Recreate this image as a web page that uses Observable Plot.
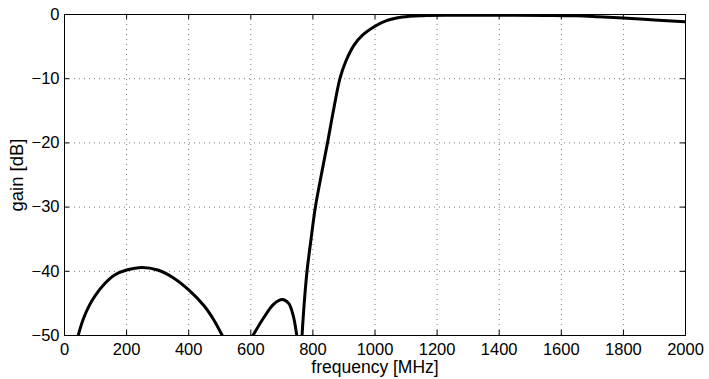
<!DOCTYPE html>
<html><head><meta charset="utf-8">
<script src="https://cdn.jsdelivr.net/npm/d3@7"></script>
<script src="https://cdn.jsdelivr.net/npm/@observablehq/plot@0.6"></script>
<style>body{margin:0;background:#fff}</style>
</head><body><div id="chart"></div>
<script>
// Sidelobe 1
const freq1 = [44, 60, 80, 100, 130, 160, 200, 250, 300, 350, 400, 450, 480, 508];
const gain1 = [-50, -47.5, -45.3, -43.7, -41.9, -40.6, -39.8, -39.4, -39.8, -41.0, -42.9, -45.4, -47.5, -50];
// Sidelobe 2
const freq2 = [607, 642, 674, 702, 722, 736, 748];
const gain2 = [-50, -47.2, -45.1, -44.4, -45.0, -46.8, -50];
// Passband
const freq3 = [765, 772, 781, 794, 808, 827, 847, 866, 887, 905, 932, 959, 1000, 1035, 1089, 1154, 1250, 1400, 1550, 1650, 1720, 1800, 1900, 2000];
const gain3 = [-50, -45, -40, -35, -30, -25, -20, -15, -10, -7.4, -4.8, -3.25, -1.83, -1.0, -0.4, -0.18, -0.12, -0.12, -0.14, -0.2, -0.35, -0.55, -0.85, -1.15];

const xTicks = [0, 200, 400, 600, 800, 1000, 1200, 1400, 1600, 1800, 2000];
const yTicks = [0, -10, -20, -30, -40, -50];
const xLabel = "frequency [MHz]";
const yLabel = "gain [dB]";

const data = [];
[[freq1, gain1], [freq2, gain2], [freq3, gain3]].forEach(([f, g], s) =>
  f.forEach((v, i) => data.push({f: v, g: g[i], seg: s})));

const W = 709, H = 379, mL = 64, mR = 24, mT = 14, mB = 44;
const innerW = W - mL - mR, innerH = H - mT - mB, tk = 5;
const grid = {stroke: "#777", strokeOpacity: 1, strokeDasharray: "1,4"};
const font = "'Liberation Sans', Arial, Helvetica, sans-serif";
const fmt = d3.format("d");

const chart = Plot.plot({
  width: W, height: H,
  marginLeft: mL, marginRight: mR, marginTop: mT, marginBottom: mB,
  style: {fontFamily: font, fontSize: "16px", color: "black", background: "white"},
  x: {domain: [0, 2000]},
  y: {domain: [-50, 0]},
  marks: [
    Plot.gridX(xTicks, grid),
    Plot.gridY(yTicks, grid),
    Plot.tickX(xTicks, {x: d => d, stroke: "black", insetTop: innerH - tk}),
    Plot.tickX(xTicks, {x: d => d, stroke: "black", insetBottom: innerH - tk}),
    Plot.tickY(yTicks, {y: d => d, stroke: "black", insetRight: innerW - tk}),
    Plot.tickY(yTicks, {y: d => d, stroke: "black", insetLeft: innerW - tk}),
    Plot.line(data, {x: "f", y: "g", z: "seg", stroke: "black", strokeWidth: 3, curve: "catmull-rom", clip: true}),
    Plot.frame({stroke: "black"}),
    Plot.axisX(xTicks, {tickSize: 0, tickPadding: 8, label: null, fontSize: 16.5, tickFormat: fmt, fontFamily: font}),
    Plot.axisY(yTicks, {tickSize: 0, tickPadding: 5, label: null, fontSize: 16.5, tickFormat: fmt, fontFamily: font}),
    Plot.text([xLabel], {frameAnchor: "bottom", dy: 31.5, text: d => d, fontSize: 17.5, lineAnchor: "middle", textAnchor: "middle", fontFamily: font}),
    Plot.text([yLabel], {frameAnchor: "left", dx: -47, rotate: -90, text: d => d, fontSize: 18.5, lineAnchor: "middle", textAnchor: "middle", fontFamily: font})
  ]
});
document.getElementById("chart").appendChild(chart);
</script>
</body></html>
